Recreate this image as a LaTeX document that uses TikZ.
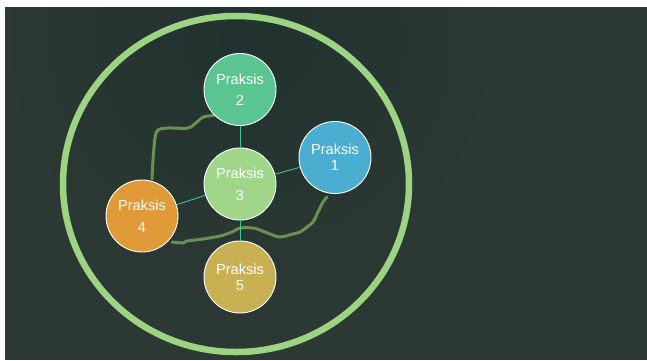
\documentclass[tikz,border=0pt]{standalone}
\usepackage{fontspec}
\setmainfont{Liberation Sans}
\definecolor{bgbase}{RGB}{44,56,51}
\definecolor{bgdark}{RGB}{33,50,47}
\definecolor{ringc}{RGB}{156,212,131}
\definecolor{cA}{RGB}{75,173,207}
\definecolor{cB}{RGB}{91,197,145}
\definecolor{cC}{RGB}{160,214,138}
\definecolor{cD}{RGB}{224,154,56}
\definecolor{cE}{RGB}{201,176,82}
\definecolor{connc}{RGB}{62,196,150}
\definecolor{wigc}{RGB}{107,145,80}
\tikzset{
  praks/.style={circle, draw=white, line width=0.9pt, minimum size=72pt, inner sep=0pt,
    text=white, align=center, font=\fontsize{14.6}{16}\selectfont},
  conn/.style={draw=connc, line width=0.9pt},
  wig/.style={draw=wigc, line width=3pt, line cap=round, line join=round},
  ring/.style={draw=ringc, line width=6.5pt}
}
\begin{document}
\begin{tikzpicture}[x=1pt,y=-1pt]
\useasboundingbox (0,0) rectangle (647,360);
\fill[white] (0,0) rectangle (647,360);
\fill[bgbase] (5,7) rectangle (647,360);
\begin{scope}
\clip (5,7) rectangle (647,360);
\shade[inner color=bgdark, outer color=bgbase] (250,40) circle (260);
\end{scope}
\draw[ring] (236,184) ellipse [x radius=173, y radius=168];
% hand drawn curves (drawn first, nodes cover their ends)
\coordinate (a1) at (152,179);
\coordinate (a2) at (215,115);
\draw[wig] plot[smooth, tension=0.5] coordinates {(a1) (153,160) (155,138) (158,130) (168,128) (188,128) (197,122) (203,117) (209,116) (a2)};
\coordinate (b1) at (172,242);
\coordinate (b2) at (327,197);
\draw[wig] plot[smooth, tension=0.5] coordinates {(b1) (183,243) (187,241) (203,239) (220,236) (232,232) (240,228) (253,228) (260,230) (270,234) (280,237) (293,234) (300,232) (307,227) (313,222) (318,212) (323,202) (b2)};
% nodes
\node[praks, fill=cB] (p2) at (240,89.5) {Praksis\\[5pt]2};
\node[praks, fill=cC] (p3) at (240,184) {Praksis\\[6pt]3};
\node[praks, fill=cA] (p1) at (335,157.5) {Praksis\\1};
\node[praks, fill=cD] (p4) at (142,216) {Praksis\\[6pt]4};
\node[praks, fill=cE] (p5) at (240,277) {Praksis\\5};
% connectors
\draw[conn] (p2) -- (p3);
\draw[conn] (p3) -- (p1);
\draw[conn] (p3) -- (p4);
\draw[conn] (p3) -- (p5);
\end{tikzpicture}
\end{document}
